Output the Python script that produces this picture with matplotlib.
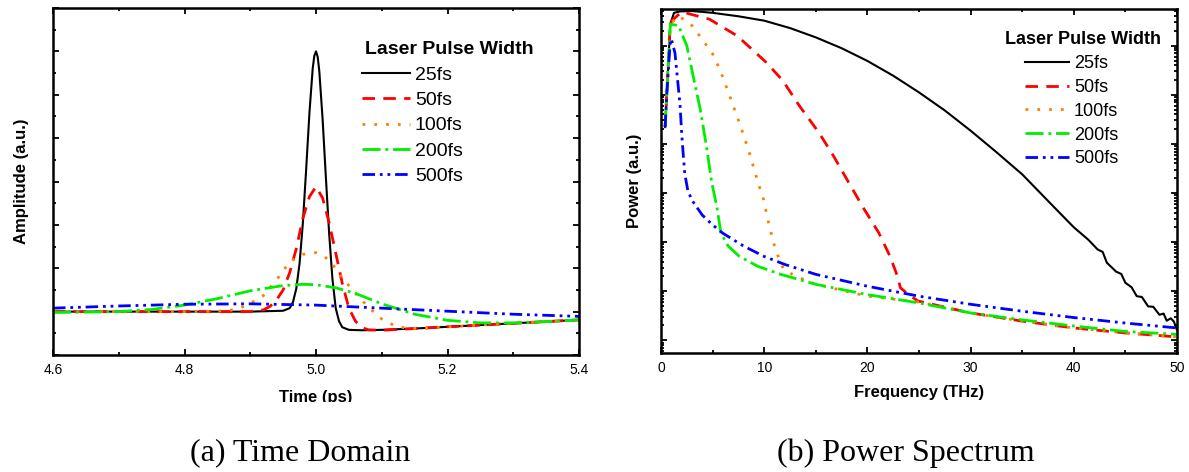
import matplotlib
matplotlib.use("Agg")
import matplotlib.pyplot as plt
from matplotlib.ticker import MultipleLocator, LogLocator, NullFormatter
from matplotlib.transforms import Bbox

plt.rcParams["font.family"] = ["Liberation Sans", "DejaVu Sans"]
plt.rcParams["lines.scale_dashes"] = False

# ---- data ------------------------------------------------------------------
labels = ["25fs", "50fs", "100fs", "200fs", "500fs"]
colors = ["#000000", "#ff0000", "#ff8000", "#00ee00", "#0000ff"]
dashes = [None, (9, 6), (2, 6.5), (13, 3.5, 2, 3.5), (9, 3.5, 2, 3.5, 2, 3.5)]

# (a) time domain, amplitude in arbitrary units
t_25 = [4.60, 4.90, 4.950, 4.960, 4.965, 4.970, 4.975, 4.980, 4.985, 4.990,
        4.995, 4.9975, 5.000, 5.0025, 5.005, 5.010, 5.015, 5.020, 5.025, 5.030,
        5.035, 5.040, 5.050, 5.070, 5.100, 5.150, 5.200, 5.250, 5.300, 5.350, 5.400]
a_25 = [0.0, 0.0, 0.02, 0.08, 0.22, 0.53, 1.11, 2.04, 3.27, 4.58,
        5.61, 5.9, 6.0, 5.88, 5.55, 4.45, 3.1, 1.8, 0.75, 0.08,
        -0.22, -0.36, -0.42, -0.43, -0.42, -0.39, -0.35, -0.31, -0.27, -0.23, -0.19]

t_50 = [4.60, 4.90, 4.92, 4.93, 4.94, 4.95, 4.96, 4.97, 4.98, 4.99, 5.00,
        5.01, 5.02, 5.03, 5.04, 5.05, 5.06, 5.07, 5.08, 5.10, 5.15, 5.20,
        5.25, 5.30, 5.35, 5.40]
a_50 = [0.0, 0.0, 0.04, 0.12, 0.27, 0.5, 0.9, 1.45, 2.15, 2.65, 2.88,
        2.62, 2.05, 1.35, 0.65, 0.08, -0.22, -0.37, -0.42, -0.43, -0.39, -0.35,
        -0.31, -0.27, -0.23, -0.19]

t_100 = [4.60, 4.80, 4.85, 4.88, 4.90, 4.92, 4.94, 4.96, 4.98, 5.00, 5.02,
         5.04, 5.06, 5.08, 5.10, 5.12, 5.14, 5.17, 5.20, 5.25, 5.30, 5.35, 5.40]
a_100 = [0.0, 0.0, 0.01, 0.05, 0.19, 0.37, 0.73, 1.15, 1.32, 1.36, 1.2,
         0.78, 0.42, 0.1, -0.17, -0.33, -0.39, -0.38, -0.35, -0.31, -0.27, -0.23, -0.19]

t_200 = [4.60, 4.70, 4.75, 4.80, 4.85, 4.90, 4.95, 4.98, 5.00, 5.03, 5.06,
         5.10, 5.15, 5.20, 5.25, 5.30, 5.35, 5.40]
a_200 = [-0.02, 0.0, 0.05, 0.15, 0.3, 0.48, 0.6, 0.63, 0.62, 0.55, 0.42,
         0.18, -0.06, -0.2, -0.26, -0.26, -0.23, -0.19]

t_500 = [4.6, 4.7, 4.8, 4.9, 5.0, 5.1, 5.2, 5.3, 5.4]
a_500 = [0.08, 0.13, 0.17, 0.18, 0.15, 0.08, 0.01, -0.06, -0.11]

# (b) power spectrum, frequency in THz, power in arbitrary units
f_25 = [0.4, 0.55, 0.9, 1.26, 1.84, 3.0, 5.0, 7.5, 10, 12.5, 15, 17.5, 20,
        22.5, 25, 27.5, 30, 32.5, 35, 37.5, 40, 41.4, 42.3, 42.8, 43.2, 44.1,
        44.6, 45.0, 45.6, 46.1, 46.6, 47.2, 47.7, 48.3, 48.7, 49.0, 49.4, 49.7, 50.0]
p_25 = [2.2e-2, 9.5e-2, 2.75, 4.68, 5.0, 5.1, 4.68, 3.98, 3.24, 2.29, 1.48, 0.89, 0.49,
        0.245, 0.112, 4.8e-2, 1.86e-2, 6.8e-3, 2.4e-3, 6.9e-4, 2.0e-4, 1.12e-4, 7.1e-5, 6.3e-5, 3.8e-5, 2.5e-5,
        2.24e-5, 1.48e-5, 1.2e-5, 7.9e-6, 7.6e-6, 4.9e-6, 4.8e-6, 3.3e-6, 3.5e-6, 2.5e-6, 2.8e-6, 2.4e-6, 1.6e-6]

f_50 = [0.4, 0.55, 0.9, 1.05, 2.0, 4.7, 7.4, 10.2, 11.8, 13.4, 15.3, 16.7, 18.2,
        19.6, 21.1, 22.2, 22.9, 23.2, 24.0, 24.9, 30, 35, 40, 45, 50]
p_50 = [2.2e-2, 9.5e-2, 2.75, 3.24, 4.9, 3.47, 1.58, 0.457, 0.195, 6.0e-2, 1.7e-2, 5.75e-3, 1.62e-3,
        5.0e-4, 1.55e-4, 5.1e-5, 2.04e-5, 1.17e-5, 8.5e-6, 6.3e-6, 3.6e-6, 2.45e-6, 1.78e-6, 1.41e-6, 1.17e-6]

f_100 = [0.4, 0.55, 0.9, 1.7, 3.0, 4.1, 5.0, 5.7, 6.7, 7.7, 8.6, 9.4, 9.9, 10.5,
         11.0, 11.4, 11.9, 13.0, 15, 20, 25, 30, 35, 40, 45, 50]
p_100 = [2.2e-2, 9.5e-2, 2.75, 4.07, 2.57, 1.26, 0.68, 0.33, 8.9e-2, 2.34e-2, 6.2e-3, 1.62e-3, 7.9e-4, 2.1e-4,
         8.3e-5, 4.8e-5, 2.75e-5, 2.04e-5, 1.38e-5, 7.9e-6, 6.0e-6, 3.6e-6, 2.45e-6, 1.78e-6, 1.41e-6, 1.17e-6]

f_200 = [0.4, 0.55, 0.9, 1.7, 2.5, 3.1, 3.8, 4.4, 4.9, 5.4, 5.8, 6.5, 7.6, 9.4,
         11.6, 15, 20, 25, 30, 35, 40, 45, 50]
p_200 = [2.2e-2, 9.5e-2, 2.75, 2.57, 1.0, 0.25, 5.1e-2, 9.1e-3, 1.7e-3, 5.4e-4, 1.55e-4, 8.3e-5, 5.1e-5, 3.2e-5,
         2.2e-5, 1.38e-5, 8.5e-6, 5.75e-6, 3.6e-6, 2.6e-6, 1.95e-6, 1.51e-6, 1.32e-6]

f_500 = [0.4, 0.55, 0.9, 1.0, 1.35, 1.6, 1.85, 2.0, 2.15, 2.3, 2.6, 3.0, 4.0, 5.0,
         6.0, 8.0, 10, 12, 15, 20, 25, 30, 35, 40, 45, 50]
p_500 = [2.2e-2, 9.5e-2, 1.26, 1.38, 0.72, 0.21, 6.0e-2, 1.7e-2, 6.3e-3, 2.5e-3, 1.12e-3, 7.1e-4, 3.55e-4, 2.24e-4,
         1.51e-4, 8.3e-5, 5.1e-5, 3.5e-5, 2.2e-5, 1.26e-5, 7.9e-6, 5.4e-6, 3.9e-6, 2.9e-6, 2.24e-6, 1.78e-6]

time_series = [(t_25, a_25), (t_50, a_50), (t_100, a_100), (t_200, a_200), (t_500, a_500)]
freq_series = [(f_25, p_25), (f_50, p_50), (f_100, p_100), (f_200, p_200), (f_500, p_500)]

time_ticks = [4.6, 4.8, 5.0, 5.2, 5.4]
time_ticklabels = ["4.6", "4.8", "5.0", "5.2", "5.4"]
freq_ticks = [0, 10, 20, 30, 40, 50]
legend_title = "Laser Pulse Width"

# ---- figure ----------------------------------------------------------------
W, H = 1189, 472
fig = plt.figure(figsize=(W / 100, H / 100), dpi=100)


def px_axes(x0, y0, x1, y1):
    return fig.add_axes([x0 / W, 1 - y1 / H, (x1 - x0) / W, (y1 - y0) / H])


def style_axes(ax):
    for sp in ax.spines.values():
        sp.set_linewidth(1.8)
    ax.tick_params(which="both", direction="in", top=True, right=True,
                   width=1.3, labelsize=10, pad=6)
    ax.tick_params(which="major", length=4.5)
    ax.tick_params(which="minor", length=2.5)


def draw_lines(ax, series):
    for (x, y), lab, c, d in zip(series, labels, colors, dashes):
        line, = ax.plot(x, y, color=c, lw=1.5 if d is None else 2.0, label=lab)
        if d is not None:
            line.set_dashes(d)


def add_legend(ax, title_xy, entries_xy, size, spacing):
    # title drawn separately so it can sit off the handle column, as in the source
    fig.text(title_xy[0] / W, 1 - title_xy[1] / H, legend_title, fontsize=size,
             fontweight="bold", ha="left", va="center")
    ax.legend(loc="upper left", bbox_to_anchor=(entries_xy[0] / W, 1 - entries_xy[1] / H),
              bbox_transform=fig.transFigure, frameon=False, fontsize=size,
              handlelength=2.45, handletextpad=0.27, labelspacing=spacing,
              borderpad=0, borderaxespad=0)


# (a) time domain
ax1 = px_axes(53, 8, 579, 355)
draw_lines(ax1, time_series)
ax1.set_xlim(4.6, 5.4)
ax1.set_ylim(-1, 7)
ax1.set_xticks(time_ticks, time_ticklabels)
ax1.xaxis.set_minor_locator(MultipleLocator(0.1))
ax1.yaxis.set_major_locator(MultipleLocator(1))
ax1.yaxis.set_minor_locator(MultipleLocator(0.5))
ax1.tick_params(axis="y", which="both", labelleft=False)
style_axes(ax1)
ax1.set_ylabel("Amplitude (a.u.)", fontsize=12, fontweight="bold", labelpad=17.5)
xl = ax1.set_xlabel("Time (ps)", fontsize=12, fontweight="bold", labelpad=9)
xl.set_clip_box(Bbox.from_extents(0, H - 402, W, H))
xl.set_clip_on(True)
add_legend(ax1, (365, 49), (362, 66), 14, 0.4)

# (b) power spectrum
ax2 = px_axes(661, 9, 1177, 353)
draw_lines(ax2, freq_series)
ax2.set_yscale("log")
ax2.set_xlim(0, 50)
ax2.set_ylim(5.5e-7, 5.6)
ax2.set_xticks(freq_ticks)
ax2.xaxis.set_minor_locator(MultipleLocator(5))
ax2.yaxis.set_major_locator(LogLocator(base=10, numticks=20))
ax2.yaxis.set_minor_locator(LogLocator(base=10, subs=range(2, 10), numticks=20))
ax2.yaxis.set_minor_formatter(NullFormatter())
ax2.tick_params(axis="y", which="both", labelleft=False)
style_axes(ax2)
ax2.set_ylabel("Power (a.u.)", fontsize=12, fontweight="bold", labelpad=14)
ax2.set_xlabel("Frequency (THz)", fontsize=12, fontweight="bold", labelpad=7)
add_legend(ax2, (1005, 40), (1025, 55), 13, 0.38)

# captions
fig.text(300 / W, 1 - 453 / H, "(a) Time Domain", family="Liberation Serif",
         fontsize=23, ha="center", va="center")
fig.text(906 / W, 1 - 453 / H, "(b) Power Spectrum", family="Liberation Serif",
         fontsize=23, ha="center", va="center")

fig.savefig("out.png", dpi=100, facecolor="white")
